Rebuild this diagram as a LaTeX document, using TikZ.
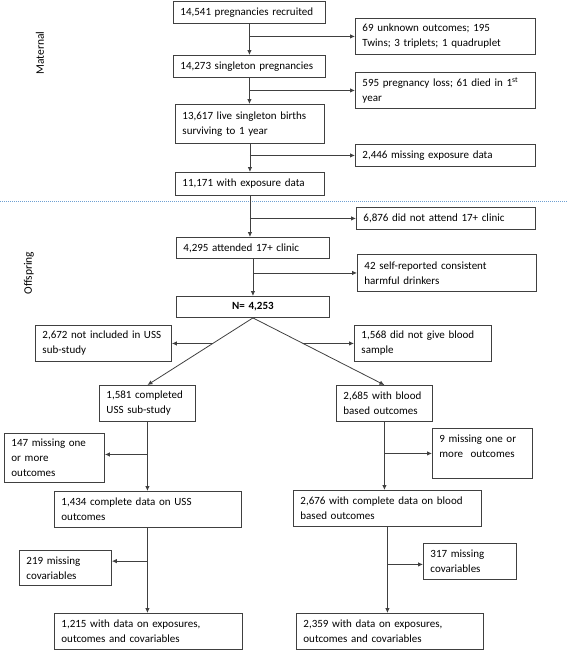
\documentclass[tikz,border=0pt]{standalone}
\usepackage{fontspec}
\setmainfont{Carlito}
\usetikzlibrary{arrows.meta,calc}
\definecolor{dividerblue}{RGB}{110,160,210}

\begin{document}
\begin{tikzpicture}[
    x=1pt, y=-1pt,
    box/.style={
        rectangle,
        draw=black!75,
        line width=0.9pt,
        anchor=north west,
        inner xsep=7pt,
        inner ysep=2pt,
        align=left,
        font=\fontsize{11}{15}\selectfont
    },
    total/.style={
        box,
        align=center,
        font=\fontsize{11}{15}\selectfont\bfseries
    },
    phase/.style={
        rotate=90,
        font=\fontsize{11.5}{15}\selectfont
    },
    flow/.style={draw=black!75, line width=0.8pt, -{Latex[length=5pt,width=4.5pt]}},
    divider/.style={draw=dividerblue, line width=0.8pt, dash pattern=on 1.2pt off 0.8pt}
]
\useasboundingbox (0,0) rectangle (567,651);

% Maternal
\node[phase] (maternal) at (40,53) {Maternal};
\node[box, text width=138pt, minimum height=22pt] (recruited) at (173,1) {14,541 pregnancies recruited};
\node[box, text width=166pt, minimum height=36pt] (excl1) at (355,18) {69 unknown outcomes; 195\\Twins; 3 triplets; 1 quadruplet};
\node[box, text width=138pt, minimum height=22pt] (singleton) at (173,55) {14,273 singleton pregnancies};
\node[box, text width=166pt, minimum height=36pt] (excl2) at (355,72) {595 pregnancy loss; 61 died in 1\textsuperscript{st}\\year};
\node[box, text width=135pt, minimum height=39pt] (live) at (175,104) {13,617 live singleton births\\surviving to 1 year};
\node[box, text width=166pt, minimum height=22pt] (excl3) at (355,144) {2,446 missing exposure data};
\node[box, text width=135pt, minimum height=23pt] (exposure) at (175,172) {11,171 with exposure data};

% Divider
\coordinate (divl) at (0,201);
\coordinate (divr) at (567,201);
\draw[divider] (divl) -- (divr);

% Offspring
\node[phase] (offspring) at (29,273) {Offspring};
\node[box, text width=165pt, minimum height=22pt] (excl4) at (356,207) {6,876 did not attend 17+ clinic};
\node[box, text width=139pt, minimum height=21pt] (clinic) at (176,237) {4,295 attended 17+ clinic};
\node[box, text width=165pt, minimum height=37pt] (excl5) at (357,254) {42 self-reported consistent\\harmful drinkers};
\node[total, text width=139pt, minimum height=21pt] (total) at (176,296) {N= 4,253};

% USS branch
\node[box, text width=122pt, minimum height=36pt] (nouss) at (35,325) {2,672 not included in USS\\sub-study};
\node[box, text width=82pt, minimum height=36pt] (uss) at (99,385) {1,581 completed\\USS sub-study};
\node[box, text width=86pt, minimum height=49pt] (miss1) at (4,433) {147 missing one\\or more\\outcomes};
\node[box, text width=173pt, minimum height=36pt] (ussdata) at (54,491) {1,434 complete data on USS\\outcomes};
\node[box, text width=78pt, minimum height=35pt] (cov1) at (19,550) {219 missing\\covariables};
\node[box, text width=174pt, minimum height=36pt] (ussfinal) at (54,613) {1,215 with data on exposures,\\outcomes and covariables};

% Blood branch
\node[box, text width=123pt, minimum height=36pt] (noblood) at (354,325) {1,568 did not give blood\\sample};
\node[box, text width=82pt, minimum height=36pt] (blood) at (336,385) {2,685 with blood\\based outcomes};
\node[box, text width=86pt, minimum height=50pt] (miss2) at (432,428) {9 missing one or\\more~ outcomes\\\mbox{}};
\node[box, text width=174pt, minimum height=36pt] (blooddata) at (293,490) {2,676 with complete data on blood\\based outcomes};
\node[box, text width=79pt, minimum height=36pt] (cov2) at (423,543) {317 missing\\covariables};
\node[box, text width=173pt, minimum height=36pt] (bloodfinal) at (296,613) {2,359 with data on exposures,\\outcomes and covariables};

% Main flow
\draw[flow] (recruited.south) -- (recruited.south |- singleton.north);
\draw[flow] (singleton.south) -- (singleton.south |- live.north);
\draw[flow] (live.south) -- (live.south |- exposure.north);
\draw[flow] (exposure.south) -- (exposure.south |- clinic.north);
\draw[flow] (clinic.south) -- (clinic.south |- total.north);
\draw[flow] (recruited.south |- excl1.west) -- (excl1.west);
\draw[flow] (singleton.south |- excl2.west) -- (excl2.west);
\draw[flow] (live.south |- excl3.west) -- (excl3.west);
\draw[flow] (exposure.south |- excl4.west) -- (excl4.west);
\draw[flow] (clinic.south |- excl5.west) -- (excl5.west);

% Split
\draw[flow] (total.south) -- (uss.north);
\draw[flow] (total.south) -- (blood.north);
\coordinate (ussfork) at (intersection of total.south--uss.north and nouss.east--noblood.west);
\coordinate (bloodfork) at (intersection of total.south--blood.north and nouss.east--noblood.west);
\draw[flow] (ussfork) -- (nouss.east);
\draw[flow] (bloodfork) -- (noblood.west);

% Branch flows
\coordinate (miss1in) at ($(miss1.north east)!0.43!(miss1.south east)$);
\coordinate (cov1in) at ($(cov1.north east)!0.31!(cov1.south east)$);
\coordinate (miss2in) at ($(miss2.north west)!0.5!(miss2.south west)$);
\coordinate (cov2in) at ($(cov2.north west)!0.58!(cov2.south west)$);
\draw[flow] (uss.south) -- (uss.south |- ussdata.north);
\draw[flow] (uss.south |- ussdata.south) -- (uss.south |- ussfinal.north);
\draw[flow] (uss.south |- miss1in) -- (miss1in);
\draw[flow] (uss.south |- cov1in) -- (cov1in);
\draw[flow] (blood.south) -- (blood.south |- blooddata.north);
\draw[flow] (blooddata.south) -- (blooddata.south |- bloodfinal.north);
\draw[flow] (blood.south |- miss2in) -- (miss2in);
\draw[flow] (blooddata.south |- cov2in) -- (cov2in);

\end{tikzpicture}
\end{document}
